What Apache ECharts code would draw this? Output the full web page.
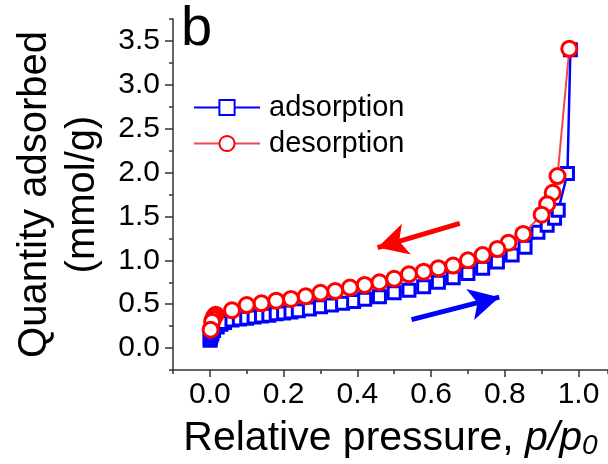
<!DOCTYPE html>
<html>
<head>
<meta charset="utf-8">
<script src="https://cdn.jsdelivr.net/npm/echarts@6/dist/echarts.min.js"></script>
<style>
html,body{margin:0;padding:0;background:#fff;}
#c{width:608px;height:464px;}
</style>
</head>
<body>
<div id="c"></div>
<script>
// ---- data ----
const adsX = [0.0005, 0.001, 0.002, 0.004, 0.006, 0.01, 0.02, 0.03, 0.04, 0.06, 0.08, 0.10, 0.12, 0.14, 0.16, 0.18, 0.20, 0.22, 0.24, 0.27, 0.30, 0.33, 0.36, 0.39, 0.42, 0.46, 0.50, 0.54, 0.58, 0.62, 0.66, 0.70, 0.74, 0.78, 0.82, 0.855, 0.89, 0.915, 0.935, 0.945, 0.97, 0.978];
const adsY = [0.09, 0.11, 0.13, 0.15, 0.17, 0.20, 0.24, 0.27, 0.29, 0.32, 0.33, 0.34, 0.355, 0.365, 0.375, 0.39, 0.40, 0.41, 0.425, 0.445, 0.47, 0.49, 0.51, 0.53, 0.555, 0.585, 0.63, 0.66, 0.70, 0.75, 0.80, 0.85, 0.91, 0.98, 1.06, 1.15, 1.32, 1.40, 1.48, 1.57, 1.99, 3.40];
const desX = [0.975, 0.943, 0.93, 0.915, 0.90, 0.85, 0.81, 0.78, 0.74, 0.70, 0.66, 0.62, 0.58, 0.54, 0.50, 0.46, 0.42, 0.38, 0.34, 0.30, 0.26, 0.22, 0.18, 0.14, 0.10, 0.06, 0.016, 0.012, 0.009, 0.006, 0.002];
const desY = [3.41, 1.96, 1.77, 1.64, 1.52, 1.30, 1.20, 1.13, 1.06, 1.00, 0.94, 0.91, 0.87, 0.84, 0.79, 0.75, 0.72, 0.69, 0.65, 0.63, 0.59, 0.56, 0.54, 0.51, 0.49, 0.43, 0.38, 0.36, 0.33, 0.30, 0.21];
const xTicks = [0.0, 0.2, 0.4, 0.6, 0.8, 1.0];
const yTicks = [0.0, 0.5, 1.0, 1.5, 2.0, 2.5, 3.0, 3.5];
const seriesNames = ['adsorption', 'desorption'];
// arrows (annotation, in data coordinates)
const redArrow = [[0.678, 1.42], [0.455, 1.145]];
const blueArrow = [[0.547, 0.324], [0.785, 0.58]];
const panelLabel = 'b';

const FONT = 'Liberation Sans, Arial, Helvetica, sans-serif';
const AX = '#333';

const zip = (a, b) => a.map((v, i) => [v, b[i]]);

const chart = echarts.init(document.getElementById('c'), null, {renderer: 'canvas'});
chart.setOption({
  animation: false,
  backgroundColor: '#fff',
  textStyle: {fontFamily: FONT},
  grid: {left: 173, right: 0, top: 19, bottom: 94, containLabel: false, outerBoundsMode: 'none'},
  legend: {
    left: 193, top: 92, orient: 'vertical', padding: 0,
    itemWidth: 66, itemHeight: 19, itemGap: 5,
    textStyle: {fontSize: 29, color: '#000', fontFamily: FONT, lineHeight: 31, padding: [0, 0, 0, 4]},
    data: seriesNames
  },
  xAxis: [{
    type: 'value', min: -0.1, max: 1.08, position: 'bottom',
    axisLine: {show: true, onZero: false, lineStyle: {color: AX, width: 1.5}},
    axisTick: {show: true, inside: false, length: 7, customValues: xTicks, lineStyle: {color: AX, width: 1.5}},
    axisLabel: {show: true, customValues: xTicks, margin: 10, fontSize: 30, color: '#000', fontFamily: FONT,
      formatter: v => v.toFixed(1)},
    splitLine: {show: false},
    name: '{n|Relative pressure, }{i|p/p}{s|0}',
    nameLocation: 'middle', nameGap: 48,
    nameTextStyle: {
      fontSize: 41, color: '#000', fontFamily: FONT,
      rich: {
        n: {fontSize: 41, color: '#000', fontFamily: FONT},
        i: {fontSize: 41, color: '#000', fontFamily: FONT, fontStyle: 'italic'},
        s: {fontSize: 28, color: '#000', fontFamily: FONT, fontStyle: 'italic', padding: [14, 0, 0, 0]}
      }
    }
  }, {
    type: 'value', min: -0.1, max: 1.08, interval: 0.1, position: 'bottom',
    axisLine: {show: false, onZero: false},
    axisTick: {show: true, inside: false, length: 4, lineStyle: {color: AX, width: 1.5}},
    axisLabel: {show: false}, splitLine: {show: false}
  }],
  yAxis: [{
    type: 'value', min: -0.25, max: 3.75, position: 'left',
    axisLine: {show: true, onZero: false, lineStyle: {color: AX, width: 1.5}},
    axisTick: {show: true, inside: false, length: 8, customValues: yTicks, lineStyle: {color: AX, width: 1.5}},
    axisLabel: {show: true, customValues: yTicks, margin: 13, fontSize: 30, color: '#000', fontFamily: FONT,
      formatter: v => v.toFixed(1)},
    splitLine: {show: false},
    name: 'Quantity adsorbed\n(mmol/g)',
    nameLocation: 'middle', nameRotate: 90, nameGap: 56,
    nameTextStyle: {fontSize: 40, color: '#000', fontFamily: FONT, lineHeight: 48, align: 'center'}
  }, {
    type: 'value', min: -0.25, max: 3.75, interval: 0.25, position: 'left', offset: 0,
    axisLine: {show: false, onZero: false},
    axisTick: {show: true, inside: false, length: 4, lineStyle: {color: AX, width: 1.5}},
    axisLabel: {show: false}, splitLine: {show: false}
  }],
  graphic: [{
    type: 'text', left: 181, top: 2, z: 100,
    style: {text: panelLabel, fontSize: 56, fill: '#000', fontFamily: FONT}
  }],
  series: [{
    name: seriesNames[0], type: 'line', xAxisIndex: 0, yAxisIndex: 0,
    data: zip(adsX, adsY),
    symbol: 'rect', symbolSize: 12,
    lineStyle: {color: '#0000ff', width: 2.5},
    itemStyle: {color: '#fff', borderColor: '#0000ff', borderWidth: 3},
    emphasis: {disabled: true}, z: 2,
    markLine: {
      silent: true, animation: false,
      symbol: ['none', 'arrow'], symbolSize: [24, 30],
      lineStyle: {color: '#0000ff', width: 5, type: 'solid'},
      label: {show: false}, emphasis: {disabled: true},
      data: [[{coord: blueArrow[0]}, {coord: blueArrow[1]}]]
    }
  }, {
    name: seriesNames[1], type: 'line', xAxisIndex: 0, yAxisIndex: 0,
    data: zip(desX, desY),
    symbol: 'circle', symbolSize: 15,
    lineStyle: {color: '#f24848', width: 2},
    itemStyle: {color: '#fff', borderColor: '#ff0000', borderWidth: 3},
    emphasis: {disabled: true}, z: 3,
    markLine: {
      silent: true, animation: false,
      symbol: ['none', 'arrow'], symbolSize: [24, 30],
      lineStyle: {color: '#ff0000', width: 5, type: 'solid'},
      label: {show: false}, emphasis: {disabled: true},
      data: [[{coord: redArrow[0]}, {coord: redArrow[1]}]]
    }
  }]
});
</script>
</body>
</html>
